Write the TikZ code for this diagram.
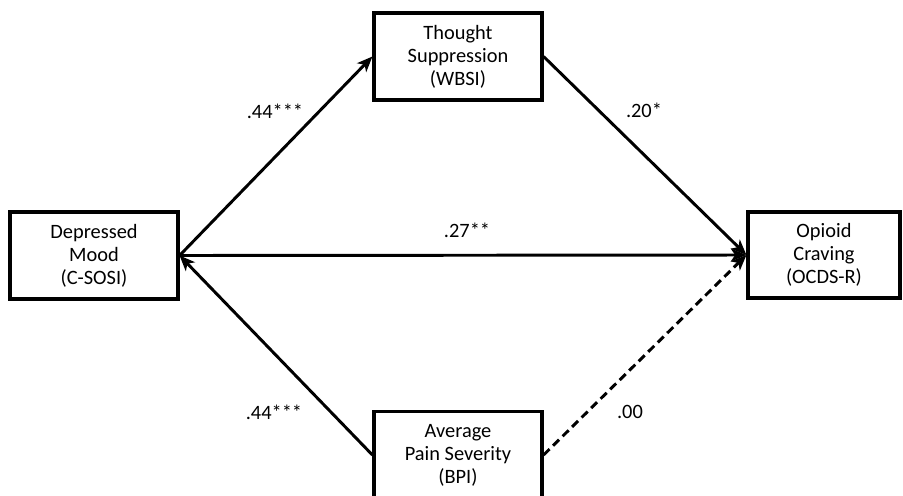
\documentclass[tikz,border=0pt]{standalone}
\usepackage{fontspec}
\setmainfont{Carlito}
\usetikzlibrary{arrows.meta}
\tikzset{
  var/.style={draw, line width=2.2pt, align=center, inner sep=0pt,
    minimum width=4.2cm, minimum height=2.175cm,
    font=\fontsize{14.5}{16.3}\selectfont},
  coef/.style={font=\fontsize{14.5}{16}\selectfont, inner sep=0pt},
  path/.style={line width=2.1pt, -{Stealth[length=11pt, width=9pt, inset=3pt]}}
}
\begin{document}
\begin{tikzpicture}[x=0.025cm, y=-0.025cm]
      \clip (0,0) rectangle (903,495);
      \draw
        (94,255.5) node[var] (dep){Depressed\\Mood\\(C-SOSI)}
        (458,56.5) node[var] (tho){Thought\\Suppression\\(WBSI)}
        (824,255) node[var, minimum width=3.8cm, minimum height=2.15cm] (opi){Opioid\\Craving\\(OCDS-R)}
        (458,455) node[var] (pai){Average\\Pain Severity\\(BPI)};
      \draw
        (275,111) node[coef] (a){.44***}
        (644,110) node[coef] (b){.20*}
        (467,230) node[coef] (c){.27**}
        (274,412) node[coef] (d){.44***}
        (630,412) node[coef] (e){.00};
      \begin{scope}[path]
        \draw (dep.east) to (tho.west);
        \draw (tho.east) to (opi.west);
        \draw (dep.east) to (opi.west);
        \draw (pai.west) to (dep.east);
        \draw[dash pattern=on 6pt off 3.5pt] (pai.east) to (opi.west);
      \end{scope}
    \end{tikzpicture}
\end{document}
